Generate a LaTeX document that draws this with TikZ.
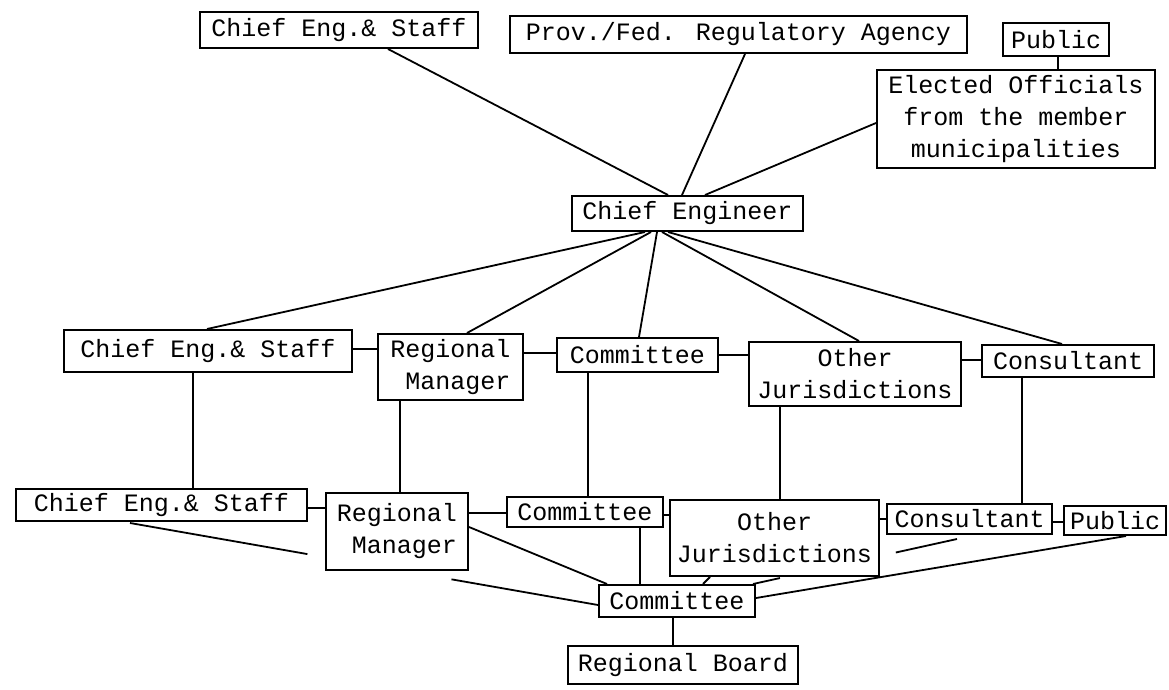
\documentclass[tikz,border=0pt]{standalone}
\usepackage{fontspec}
\newfontfamily\twfont{Liberation Mono}
\usetikzlibrary{calc}
\tikzset{
  box/.style={draw, line width=2pt, rectangle, inner sep=0pt, align=center,
    font=\twfont\fontsize{25}{32}\selectfont},
  link/.style={line width=1.8pt},
}
\begin{document}
\begin{tikzpicture}[x=1pt,y=-1pt]
\useasboundingbox (0,0) rectangle (1169,690);
% top row
\node[box, minimum width=278, minimum height=36] (ces1) at (339,30) {Chief Eng.\& Staff};
\node[box, minimum width=457, minimum height=37] (prov) at (738.5,34.5) {Prov./Fed. Regulatory Agency};
\node[box, minimum width=106, minimum height=33] (pub1) at (1056,39.5) {Public};
\node[box, minimum width=278, minimum height=98] (elect) at (1016,119) {Elected Officials\\from the member\\municipalities};
\node[box, minimum width=231, minimum height=35] (ce) at (687.5,213.5) {Chief Engineer};
% middle row
\node[box, minimum width=288, minimum height=42] (ces2) at (208,351) {Chief Eng.\& Staff};
\node[box, minimum width=145, minimum height=66, align=right] (rm2) at (450.5,367) {Regional\\Manager};
\node[box, minimum width=161, minimum height=34] (com2) at (637.5,355) {Committee};
\node[box, minimum width=212, minimum height=64] (oth2) at (855,374) {Other\\Jurisdictions};
\node[box, minimum width=172, minimum height=32] (con2) at (1068,361) {Consultant};
% bottom row
\node[box, minimum width=291, minimum height=32] (ces3) at (161.5,505) {Chief Eng.\& Staff};
\node[box, minimum width=142, minimum height=77, align=right] (rm3) at (397,531.5) {Regional\\Manager};
\node[box, minimum width=156, minimum height=30] (com3) at (585,512) {Committee};
\node[box, minimum width=209, minimum height=76] (oth3) at (774.5,538) {Other\\Jurisdictions};
\node[box, minimum width=165, minimum height=30] (con3) at (969.5,519) {Consultant};
\node[box, minimum width=102, minimum height=29] (pub3) at (1115,520.5) {Public};
% base
\node[box, minimum width=156, minimum height=32] (com4) at (677,601) {Committee};
\node[box, minimum width=230, minimum height=38] (rb) at (683,665) {Regional Board};

% top fan into Chief Engineer
\draw[link] (ces1.south -| 388,0) -- (ce.north -| 668,0);
\draw[link] (prov.south -| 745,0) -- (ce.north -| 682,0);
\draw[link] (elect.west |- 0,123) -- (ce.north -| 705,0);
\draw[link] (pub1.south -| 1058,0) -- (elect.north -| 1058,0);
% fan out of Chief Engineer
\draw[link] (ce.south -| 645,0) -- (ces2.north -| 207,0);
\draw[link] (ce.south -| 651,0) -- (rm2.north -| 467,0);
\draw[link] (ce.south -| 657,0) -- (com2.north -| 639,0);
\draw[link] (ce.south -| 662,0) -- (oth2.north -| 859,0);
\draw[link] (ce.south -| 668,0) -- (con2.north -| 1062,0);
% middle horizontals
\draw[link] (ces2.east |- 0,349) -- (rm2.west |- 0,349);
\draw[link] (rm2.east |- 0,353) -- (com2.west |- 0,353);
\draw[link] (com2.east |- 0,355) -- (oth2.west |- 0,355);
\draw[link] (oth2.east |- 0,360) -- (con2.west |- 0,360);
% verticals
\draw[link] (ces2.south -| 193,0) -- (ces3.north -| 193,0);
\draw[link] (rm2.south -| 400,0) -- (rm3.north -| 400,0);
\draw[link] (com2.south -| 588,0) -- (com3.north -| 588,0);
\draw[link] (oth2.south -| 780,0) -- (oth3.north -| 780,0);
\draw[link] (con2.south -| 1022,0) -- (con3.north -| 1022,0);
% bottom horizontals
\draw[link] (ces3.east |- 0,508) -- (rm3.west |- 0,508);
\draw[link] (rm3.east |- 0,513) -- (com3.west |- 0,513);
\draw[link] (com3.east |- 0,515) -- (oth3.west |- 0,515);
\draw[link] (oth3.east |- 0,519) -- (con3.west |- 0,519);
\draw[link] (con3.east |- 0,522) -- (pub3.west |- 0,522);
% into the base Committee
\coordinate (a1) at ($(ces3.south -| 130,0)+(0,1)$);
\coordinate (a2) at (com4.west |- 0,605);
\draw[link] (a1) -- ($(a1)!0.379!(a2)$);
\draw[link] ($(a1)!0.687!(a2)$) -- (a2);
\draw[link] (rm3.east |- 0,527) -- (com4.north -| 607,0);
\draw[link] (com3.south -| 640,0) -- (com4.north -| 640,0);
\draw[link] (oth3.south -| 710,0) -- (com4.north -| 703,0);
\coordinate (b1) at ($(con3.south -| 957,0)+(0,4)$);
\coordinate (b2) at (com4.north -| 753,0);
\draw[link] (b1) -- ($(b1)!0.30!(b2)$);
\draw[link] ($(b1)!0.868!(b2)$) -- (b2);
\draw[link] (pub3.south -| 1126,0) -- (com4.east |- 0,598);
\draw[link] (com4.south -| 673,0) -- (rb.north -| 673,0);
\end{tikzpicture}
\end{document}
